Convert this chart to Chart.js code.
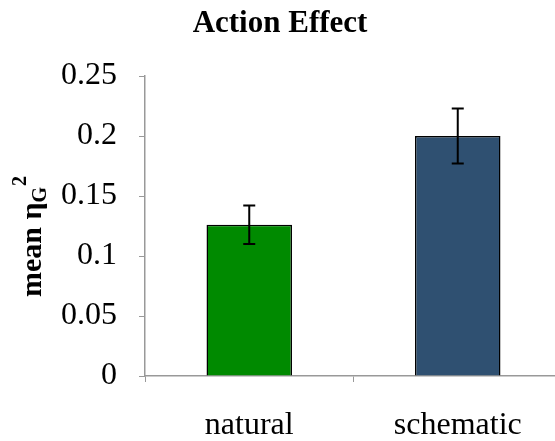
<!DOCTYPE html>
<html>
<head>
<meta charset="utf-8">
<script src="https://cdn.jsdelivr.net/npm/chart.js@4/dist/chart.umd.min.js"></script>
<style>
  html, body { margin: 0; padding: 0; background: #fff; overflow: hidden; }
  #wrap { width: 555px; height: 441px; overflow: hidden; }
</style>
</head>
<body>
<div id="wrap"><canvas id="effectChart" width="562" height="441"></canvas></div>
<script>
var categories = ['natural', 'schematic'];
var meanEta = [0.126, 0.200];
var errEta = [0.016, 0.023];
var yTicks = [0, 0.05, 0.1, 0.15, 0.2, 0.25];
var barColors = ['#008a00', '#2f5071'];

var serif = '"Liberation Serif", "Times New Roman", serif';

// error bars + title + y label drawn on top of the chart
var extras = {
    id: 'extras',
    afterDatasetsDraw: function (chart) {
        var ctx = chart.ctx;
        var meta = chart.getDatasetMeta(0);
        var y = chart.scales.y;
        ctx.save();
        ctx.strokeStyle = '#000';
        ctx.lineWidth = 2;
        meta.data.forEach(function (bar, i) {
            var top = y.getPixelForValue(meanEta[i] + errEta[i]);
            var bot = y.getPixelForValue(meanEta[i] - errEta[i]);
            ctx.beginPath();
            ctx.moveTo(bar.x, top); ctx.lineTo(bar.x, bot);
            ctx.moveTo(bar.x - 6, top); ctx.lineTo(bar.x + 6, top);
            ctx.moveTo(bar.x - 6, bot); ctx.lineTo(bar.x + 6, bot);
            ctx.stroke();
        });
        ctx.restore();
    },
    afterDraw: function (chart) {
        var ctx = chart.ctx;
        ctx.save();
        ctx.fillStyle = '#000';
        ctx.font = 'bold 31px ' + serif;
        ctx.textAlign = 'center';
        ctx.textBaseline = 'middle';
        ctx.fillText('Action Effect', 280, 24);

        // y axis label: mean η_G^2
        ctx.translate(33, 237);
        ctx.rotate(-Math.PI / 2);
        ctx.textAlign = 'left';
        ctx.textBaseline = 'middle';
        var x0 = -60;
        ctx.font = 'bold 30px ' + serif;
        var t1 = 'mean \u03b7';
        ctx.fillText(t1, x0, 0);
        var w1 = ctx.measureText(t1).width;
        ctx.font = 'bold 20px ' + serif;
        ctx.fillText('G', x0 + w1, 8);
        var w2 = ctx.measureText('G').width;
        ctx.fillText('2', x0 + w1 + w2 + 1, -12);
        ctx.restore();
    }
};

new Chart(document.getElementById('effectChart').getContext('2d'), {
    type: 'bar',
    data: {
        labels: categories,
        datasets: [{
            data: meanEta,
            backgroundColor: barColors,
            borderColor: '#000',
            borderWidth: 1.5,
            categoryPercentage: 0.41,
            barPercentage: 1
        }]
    },
    options: {
        responsive: false,
        animation: false,
        layout: { padding: { top: 76, right: 0, left: 0, bottom: 0 } },
        plugins: {
            legend: { display: false },
            tooltip: { enabled: false }
        },
        scales: {
            x: {
                grid: { display: true, drawOnChartArea: false, drawTicks: true, tickLength: 6, color: '#999', offset: true },
                border: { color: '#999', width: 1.5 },
                ticks: { color: '#000', padding: 24, font: { family: serif, size: 32 } },
                afterFit: function (s) { s.height = 65; }
            },
            y: {
                min: 0,
                max: 0.25,
                afterBuildTicks: function (s) {
                    s.ticks = yTicks.map(function (v) { return { value: v }; });
                },
                grid: { display: true, drawOnChartArea: false, drawTicks: true, tickLength: 6, color: '#999' },
                border: { color: '#999', width: 1.5 },
                ticks: {
                    color: '#000',
                    padding: 22,
                    font: { family: serif, size: 32 },
                    callback: function (v) { return String(v); }
                },
                afterFit: function (s) { s.width = 145; }
            }
        }
    },
    plugins: [extras]
});
</script>
</body>
</html>
